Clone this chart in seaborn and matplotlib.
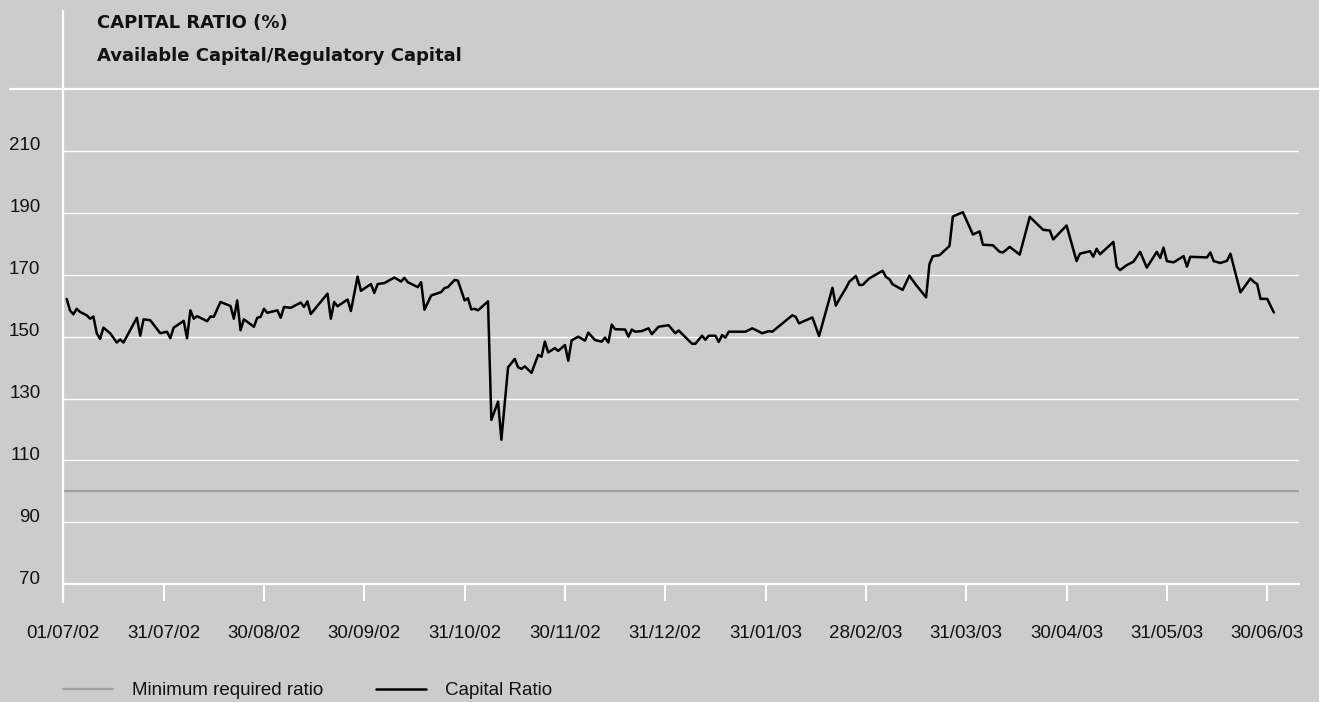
import numpy as np
import pandas as pd
import matplotlib
matplotlib.use("Agg")
import matplotlib.pyplot as plt
import seaborn as sns
from matplotlib.transforms import ScaledTranslation

# ---------------- data ----------------
title_line1 = "CAPITAL RATIO (%)"
title_line2 = "Available Capital/Regulatory Capital"

x_tick_labels = ["01/07/02", "31/07/02", "30/08/02", "30/09/02", "31/10/02", "30/11/02",
                 "31/12/02", "31/01/03", "28/02/03", "31/03/03", "30/04/03", "31/05/03",
                 "30/06/03"]
y_tick_values = [70, 90, 110, 130, 150, 170, 190, 210]

min_required_ratio = 100

# day index (ticks every 30 days) and capital ratio values
days = [1, 2, 3, 4, 5, 7, 8, 9, 10, 11, 12, 14, 16, 17, 18, 22, 23, 24, 26, 29,
        31, 32, 33, 36, 37, 38, 39, 40, 43, 44, 45, 47, 50, 51, 52, 53, 54, 57, 58, 59,
        60, 61, 64, 65, 66, 68, 71, 72, 73, 74, 79, 80, 81, 82, 85, 86, 88, 89, 92, 93,
        94, 96, 99, 101, 102, 103, 106, 107, 108, 110, 113, 114, 115, 117, 118, 120, 121, 122, 123, 124,
        127, 128, 130, 131, 133, 135, 136, 137, 138, 140, 142, 143, 144, 145, 147, 148, 150, 151, 152, 154,
        156, 157, 159, 161, 162, 163, 164, 165, 168, 169, 170, 171, 173, 175, 176, 178, 181, 183, 184, 188,
        189, 191, 192, 193, 195, 196, 197, 198, 199, 204, 206, 209, 211, 212, 218, 219, 220, 224, 226, 230,
        231, 232, 234, 235, 237, 238, 239, 241, 245, 246, 247, 248, 251, 253, 255, 258, 259, 260, 262, 265,
        266, 269, 272, 274, 275, 278, 280, 281, 283, 286, 289, 293, 295, 296, 300, 303, 304, 307, 308, 309,
        310, 314, 315, 316, 318, 320, 322, 324, 327, 328, 329, 330, 332, 335, 336, 337, 342, 343, 344, 346,
        348, 349, 352, 355, 356, 357, 358, 360, 362]
capital_ratio = [162.2, 158.5, 157.2, 159.0, 158.0, 156.9, 155.8, 156.5, 151.1, 149.3, 152.9, 151.1, 148.1, 149.1, 148.1, 156.1, 150.3, 155.6, 155.3, 151.1,
                 151.6, 149.5, 152.9, 155.1, 149.5, 158.5, 155.8, 156.6, 155.0, 156.5, 156.4, 161.2, 159.9, 155.8, 161.7, 152.1, 155.6, 153.2, 156.1, 156.4,
                 159.0, 157.7, 158.5, 156.1, 159.6, 159.3, 161.0, 159.6, 161.4, 157.3, 163.9, 155.8, 161.2, 159.8, 162.0, 158.3, 169.4, 164.8, 167.0, 164.1,
                 167.0, 167.3, 169.1, 167.8, 169.0, 167.6, 166.0, 167.6, 158.7, 163.3, 164.4, 165.7, 166.0, 168.3, 168.1, 161.7, 162.4, 158.8, 159.0, 158.5,
                 161.4, 123.1, 129.0, 116.7, 140.1, 142.8, 140.1, 139.6, 140.4, 138.3, 144.1, 143.5, 148.4, 144.9, 146.3, 145.4, 147.3, 142.2, 148.8, 150.0,
                 148.7, 151.3, 148.9, 148.4, 149.7, 148.1, 153.9, 152.4, 152.3, 150.0, 152.3, 151.6, 151.8, 152.7, 150.8, 153.2, 153.7, 151.1, 152.0, 147.7,
                 147.7, 150.3, 149.0, 150.3, 150.3, 148.3, 150.5, 149.7, 151.6, 151.6, 152.7, 151.1, 151.8, 151.6, 156.9, 156.4, 154.3, 156.2, 150.2, 165.8,
                 160.0, 162.0, 165.6, 167.7, 169.6, 166.7, 166.7, 168.8, 171.3, 169.3, 168.6, 166.9, 165.1, 169.7, 166.7, 162.7, 173.4, 176.0, 176.3, 179.3,
                 188.8, 190.2, 183.0, 184.0, 179.7, 179.5, 177.4, 177.2, 179.0, 176.5, 188.7, 184.5, 184.3, 181.4, 185.9, 174.4, 176.8, 177.6, 175.8, 178.4,
                 176.6, 180.6, 172.6, 171.5, 173.1, 174.2, 177.4, 172.3, 177.4, 175.4, 178.8, 174.4, 174.0, 176.0, 172.6, 175.8, 175.6, 177.2, 174.4, 173.8,
                 174.5, 176.8, 164.3, 168.8, 167.7, 167.0, 162.2, 162.2, 157.8]

df = pd.DataFrame({"day": days, "ratio": capital_ratio})

# ---------------- style ----------------
BG = "#cccccc"
sns.set_theme(style="white", rc={"axes.facecolor": BG, "figure.facecolor": BG,
                                 "savefig.facecolor": BG})
plt.rcParams["font.family"] = ["Liberation Sans", "DejaVu Sans"]

FS = 13.5
W, H = 1319, 702
fig = plt.figure(figsize=(W / 100, H / 100), dpi=100)
ax_left, ax_right, ax_bottom, ax_top = 63.3, 1299.3, 584.3, 89.0
ax = fig.add_axes([ax_left / W, (H - ax_bottom) / H, (ax_right - ax_left) / W, (ax_bottom - ax_top) / H])
ax.set_facecolor(BG)

ax.axhline(min_required_ratio, color="#a0a0a0", lw=1.6, label="Minimum required ratio", zorder=2)
sns.lineplot(data=df, x="day", y="ratio", ax=ax, color="black", lw=1.8,
             label="Capital Ratio", zorder=3)

tick_step = 30
ax.set_xlim(0, 369.6)
ax.set_ylim(70, 230)
ax.set_xticks(np.arange(len(x_tick_labels)) * tick_step)
ax.set_xticklabels(x_tick_labels)
ax.set_yticks(y_tick_values)
ax.set_yticklabels([str(v) for v in y_tick_values])
ax.set_xlabel("")
ax.set_ylabel("")

ax.grid(axis="y", color="white", lw=1.0, zorder=0)
ax.grid(axis="x", visible=False)
ax.set_axisbelow(True)

for s in ["top", "right", "left"]:
    ax.spines[s].set_visible(False)
ax.spines["bottom"].set_color("white")
ax.spines["bottom"].set_linewidth(1.6)

ax.tick_params(axis="x", direction="out", length=12.5, width=1.5, color="white",
               pad=17, labelsize=FS, labelcolor="#111111")
ax.tick_params(axis="y", length=0, pad=16.5, labelsize=FS, labelcolor="#111111")
ax.tick_params(axis="x", bottom=True)
off = ScaledTranslation(0, 0.07, fig.dpi_scale_trans)
for lab in ax.get_yticklabels():
    lab.set_transform(lab.get_transform() + off)

# decorative white frame lines (left vertical and top horizontal)
ax.plot([0, 0], [-0.0357, 1.1575], transform=ax.transAxes, color="white", lw=1.6,
        clip_on=False, zorder=4)
ax.plot([-0.0431, 1.016], [1, 1], transform=ax.transAxes, color="white", lw=1.6,
        clip_on=False, zorder=4)

# titles
fig.text(97 / W, 1 - 28.3 / H, title_line1, fontsize=13, fontweight="bold",
         family=["DejaVu Sans"], va="baseline", ha="left", color="#111111")
fig.text(97 / W, 1 - 61 / H, title_line2, fontsize=13, fontweight="bold",
         family=["DejaVu Sans"], va="baseline", ha="left", color="#111111")

# legend
handles, labels = ax.get_legend_handles_labels()
if ax.get_legend() is not None:
    ax.get_legend().remove()
leg = fig.legend(handles, labels, loc="center left",
                 bbox_to_anchor=(ax_left / W, 11.3 / H), ncol=2, frameon=False,
                 fontsize=FS, handlelength=2.67, handletextpad=1.0, columnspacing=2.8,
                 borderpad=0, borderaxespad=0)
for t in leg.get_texts():
    t.set_color("#111111")

fig.savefig("out.png", dpi=100, facecolor=BG)
